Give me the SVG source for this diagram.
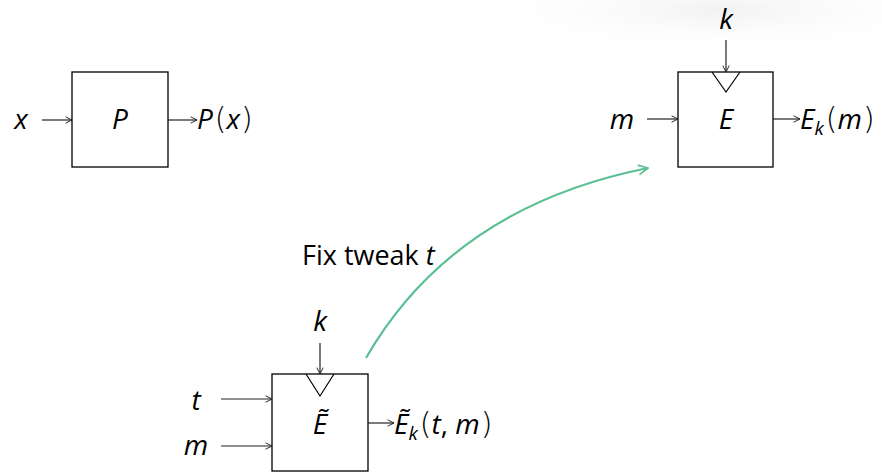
<svg xmlns="http://www.w3.org/2000/svg" width="882" height="472" viewBox="0 0 882 472">
<style>
.box{fill:#fff;stroke:#000;stroke-width:1.3}
.w{stroke:#222;stroke-width:1.2;fill:none;marker-end:url(#a)}
.t{font-family:"Open Sans","DejaVu Sans",sans-serif;font-size:28px;fill:#000}
.f{font-size:27px}
.i{font-style:italic}
.s{font-size:19px}
.p{font-family:"DejaVu Sans",sans-serif;font-size:30px;font-weight:300}
</style>
<defs>
<marker id="a" viewBox="0 0 10 10" refX="9" refY="5" markerWidth="8" markerHeight="8" markerUnits="userSpaceOnUse" orient="auto"><path d="M1,1 L9,5 L1,9" fill="none" stroke="#222" stroke-width="1.2"/></marker>
<marker id="g" viewBox="0 0 10 10" refX="9" refY="5" markerWidth="12" markerHeight="12" markerUnits="userSpaceOnUse" orient="auto"><path d="M1,1 L9,5 L1,9" fill="none" stroke="#5bbf94" stroke-width="1.4"/></marker>
<radialGradient id="bg" cx="0.5" cy="0.5" r="0.5"><stop offset="0" stop-color="#f2f2f2"/><stop offset="1" stop-color="#fff" stop-opacity="0"/></radialGradient>
</defs>
<rect width="882" height="472" fill="#fff"/>
<ellipse cx="720" cy="10" rx="260" ry="45" fill="url(#bg)"/>
<g id="nodeP">
<rect class="box" x="72" y="72" width="96" height="95"/>
<text class="t i" x="120" y="129" text-anchor="middle">P</text>
</g>
<g id="nodeE">
<rect class="box" x="678" y="72" width="95" height="95"/>
<path d="M712,72 L726,92 L740,72" fill="none" stroke="#000" stroke-width="1.2"/>
<text class="t i" x="726" y="129" text-anchor="middle">E</text>
</g>
<g id="nodeEt">
<rect class="box" x="272" y="374" width="96" height="97"/>
<path d="M306,374 L320,396 L334,374" fill="none" stroke="#000" stroke-width="1.2"/>
<text class="t i" x="320" y="434" text-anchor="middle">Ẽ</text>
</g>
<g id="labels">
<text class="t i" x="21" y="129" text-anchor="middle">x</text>
<text class="t" x="197" y="129"><tspan class="i">P</tspan><tspan class="p" dx="2">(</tspan><tspan class="i">x</tspan><tspan class="p" dx="1">)</tspan></text>
<text class="t i" x="726" y="29" text-anchor="middle">k</text>
<text class="t i" x="622" y="129" text-anchor="middle">m</text>
<text class="t" x="800" y="129"><tspan class="i">E</tspan><tspan class="i s" dy="6">k</tspan><tspan class="p" dy="-6" dx="2">(</tspan><tspan class="i">m</tspan><tspan class="p" dx="1">)</tspan></text>
<text class="t i" x="320" y="331" text-anchor="middle">k</text>
<text class="t i" x="196" y="410" text-anchor="middle">t</text>
<text class="t i" x="196" y="455" text-anchor="middle">m</text>
<text class="t" x="394" y="434"><tspan class="i">Ẽ</tspan><tspan class="i s" dy="6">k</tspan><tspan class="p" dy="-6" dx="2">(</tspan><tspan class="i">t</tspan>, <tspan class="i">m</tspan><tspan class="p" dx="1">)</tspan></text>
<text class="t f" x="302" y="265">Fix tweak <tspan class="i">t</tspan></text>
</g>
<g id="connectors">
<line class="w" x1="42" y1="120" x2="72" y2="120"/>
<line class="w" x1="168" y1="120" x2="197" y2="120"/>
<line class="w" x1="726" y1="40" x2="726" y2="72"/>
<line class="w" x1="647" y1="119" x2="678" y2="119"/>
<line class="w" x1="773" y1="119" x2="800" y2="119"/>
<line class="w" x1="320" y1="343" x2="320" y2="374"/>
<line class="w" x1="221" y1="399" x2="272" y2="399"/>
<line class="w" x1="221" y1="446" x2="272" y2="446"/>
<line class="w" x1="368" y1="423" x2="394" y2="423"/>
<path d="M366,358 Q453,207 648,168" fill="none" stroke="#5bbf94" stroke-width="2.2" marker-end="url(#g)"/>
</g>
</svg>
